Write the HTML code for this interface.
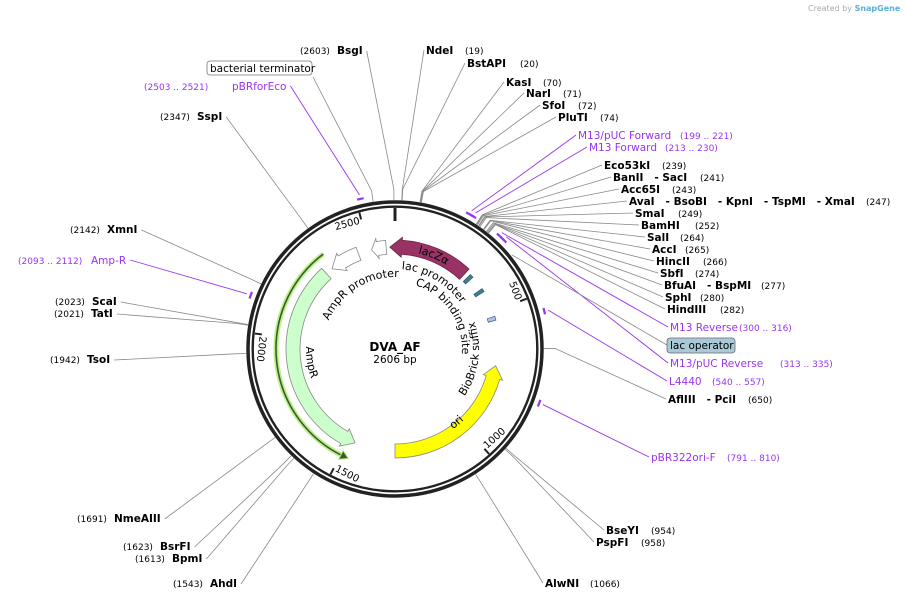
<!DOCTYPE html>
<html><head><meta charset="utf-8">
<style>
html,body{margin:0;padding:0;background:#fff}
svg{display:block;font-family:"DejaVu Sans","Liberation Sans",sans-serif}
.nm{font-weight:bold;font-size:10.5px;fill:#000;white-space:pre}
.num{font-size:9px;fill:#000}
.pn{font-size:10.5px;fill:#9933ee}
.pr{font-size:9px;fill:#9933ee}
.ft{font-size:11px;fill:#000}
</style></head><body>
<svg id="map" width="906" height="601" viewBox="0 0 906 601" xmlns="http://www.w3.org/2000/svg">
<text x="808" y="11" font-size="8" fill="#aaa">Created by <tspan fill="#5ab0d8" font-weight="bold">SnapGene</tspan></text>
<g id="lines"></g><g id="ring"></g><g id="feats"></g><g id="labels"></g>
<text x="395" y="351" text-anchor="middle" font-size="12" font-weight="bold">DVA_AF</text>
<text x="395" y="363" text-anchor="middle" font-size="10.5">2606 bp</text>
</svg>
<script>
const TOTAL = 2606;
const tickValues = [500, 1000, 1500, 2000, 2500];
// right-side enzymes
const rEnzNames = ["NdeI","BstAPI","KasI","NarI","SfoI","PluTI","Eco53kI","BanII   - SacI","Acc65I","AvaI   - BsoBI   - KpnI   - TspMI   - XmaI","SmaI","BamHI","SalI","AccI","HincII","SbfI","BfuAI   - BspMI","SphI","HindIII","AflIII   - PciI","BseYI","PspFI","AlwNI"];
const rEnzSites = [19,20,70,71,72,74,239,241,243,247,249,252,264,265,266,274,277,280,282,650,954,958,1066];
const rEnzLayout = [[426,54,465],[467,67,520],[506,86,543],[526,97,563],[542,109,578],[558,121,600],[604,169,662],[613,181,700],[621,193,672],[629,205,866],[635,217,678],[641,229,695],[647,241,680],[652,253,685],[656,265,703],[660,277,695],[664,289,761],[665,301,700],[667,313,720],[668,403,748],[606,534,651],[596,546,641],[545,587,590]];
// left-side enzymes
const lEnzNames = ["BsgI","SspI","XmnI","ScaI","TatI","TsoI","NmeAIII","BsrFI","BpmI","AhdI"];
const lEnzSites = [2603,2347,2142,2023,2021,1942,1691,1623,1613,1543];
const lEnzLayout = [[300,337,54],[160,197,120],[70,107,233],[55,92,305],[54,91,317],[50,87,363],[77,114,522],[123,160,550],[135,172,562],[173,210,587]];
// primers
const primerNames = ["M13/pUC Forward","M13 Forward","M13 Reverse","M13/pUC Reverse","L4440","pBR322ori-F","Amp-R","pBRforEco"];
const primerStarts = [199,213,300,313,540,791,2093,2503];
const primerEnds = [221,230,316,335,557,810,2112,2521];
const primerLayout = [[578,139,680,1],[589,151,665,1],[670,331,739,1],[670,367,780,1],[669,385,712,1],[651,461,727,1],[91,264,18,0],[232,90,144,0]];
// features
const featNames = ["lacZα","AmpR","AmpR promoter","terminator","ori"];
const featStarts = [310,2300,2454,2570,1303];
const featEnds = [2585,1470,2330,2510,720];
const featFills = ["#993366","#ccffcc","#ffffff","#ffffff","#ffff00"];

const cx=395, cy=349, NS="http://www.w3.org/2000/svg";
const svg=document.getElementById('map');
function ang(bp){return bp/TOTAL*360;}
function P(r,a){const t=a*Math.PI/180;return [cx+r*Math.sin(t), cy-r*Math.cos(t)];}
function mk(tag,attrs,parent){const e=document.createElementNS(NS,tag);for(const k in attrs)e.setAttribute(k,attrs[k]);(parent||svg).appendChild(e);return e;}
function f(p){return p[0].toFixed(2)+","+p[1].toFixed(2);}
function arcTo(r,a1,a2){const p=P(r,a2);const lg=Math.abs(a2-a1)>180?1:0;const sw=a2>a1?1:0;return "A"+r+","+r+" 0 "+lg+" "+sw+" "+f(p);}
const G={lines:document.getElementById('lines'),ring:document.getElementById('ring'),feats:document.getElementById('feats'),labels:document.getElementById('labels')};

// ring
let c1=mk('circle',{cx,cy,r:147,fill:'none',stroke:'#222','stroke-width':3.5},G.ring);


let c2=mk('circle',{cx,cy,r:142.3,fill:'none',stroke:'#222','stroke-width':2.4},G.ring);


let t0=mk('line',{x1:P(141,0)[0],y1:P(141,0)[1],x2:P(128,0)[0],y2:P(128,0)[1],stroke:'#222','stroke-width':3},G.ring);


tickValues.forEach(v=>{
  const a=ang(v);const p1=P(141,a),p2=P(134,a);
  const tk=mk('line',{x1:p1[0],y1:p1[1],x2:p2[0],y2:p2[1],stroke:'#222','stroke-width':2},G.ring);
  
  
  const flip=(a>90&&a<300);
  let tx;
  if(!flip){const p=P(130,a-0.8);tx=mk('text',{x:p[0],y:p[1],'text-anchor':'end',transform:`rotate(${a} ${p[0]} ${p[1]})`,'font-size':10},G.ring);}
  else{const p=P(136,a-0.8);tx=mk('text',{x:p[0],y:p[1],'text-anchor':'start',transform:`rotate(${a-180} ${p[0]} ${p[1]})`,'font-size':10},G.ring);}
  tx.textContent=v;
  
  
});

// features
function arrowD(a1,a2,r1,r2,headPx){
  const dir=a2>a1?1:-1;const rm=(r1+r2)/2;const hd=headPx/rm*180/Math.PI;
  const ab=a2-dir*hd;
  return "M"+f(P(r2,a1))+arcTo(r2,a1,ab)+"L"+f(P(r2+3,ab))+"L"+f(P(rm,a2))+"L"+f(P(r1-3,ab))+"L"+f(P(r1,ab))+arcTo(r1,ab,a1)+"Z";
}
featNames.forEach((n,i)=>{
  let a1=ang(featStarts[i]),a2=ang(featEnds[i]);
  if(a2>a1) a2-=360;
  const d=arrowD(a1,a2,95,109,i===3?6:12);
  const pth=mk('path',{d,fill:featFills[i],stroke:i===0?'#6e2448':'#888','stroke-width':0.8},G.feats);
  
  
});
// small boxes (lac operator region, biobrick)
const boxSites=[[328,343,'#31849b'],[400,414,'#31849b'],[520,536,'#a8c4ee']];
boxSites.forEach((b,i)=>{
  const a1=ang(b[0]),a2=ang(b[1]);const r1=i===2?97:96,r2=i===2?105:106;
  const d="M"+f(P(r2,a1))+arcTo(r2,a1,a2)+"L"+f(P(r1,a2))+arcTo(r1,a2,a1)+"Z";
  const bx=mk('path',{d,fill:b[2],stroke:'#445','stroke-width':0.6},G.feats);
  
  
});
// AmpR highlight line
(function(){
  const a1=ang(2338),a2=ang(1470);
  const d="M"+f(P(119,a1))+arcTo(119,a1,a2+3);
  const gl=mk('path',{d,fill:'none',stroke:'#b8f088','stroke-width':5},G.feats);
  
  
  const ln=mk('path',{d,fill:'none',stroke:'#3f5a2a','stroke-width':1.6},G.feats);
  
  
  const hp=mk('path',{d:"M"+f(P(124,a2+4))+"L"+f(P(119,a2))+"L"+f(P(114,a2+4))+"Z",fill:'#3f5a2a',stroke:'#b8f088','stroke-width':1},G.feats);
  
  
})();

// curved labels
let pid=0;
function curved(txt,r,a1,a2,cls,fill,name,fs){
  const id='cp'+(pid++);
  mk('path',{id,d:"M"+f(P(r,a1))+arcTo(r,a1,a2),fill:'none'},G.feats);
  const t=mk('text',{class:cls,'font-size':fs||11,fill:fill},G.feats);
  
  
  const tp=mk('textPath',{href:'#'+id,startOffset:'50%','text-anchor':'middle'},t);
  tp.textContent=txt;
}
curved("lacZα",98.5,-10,55,'ft','#fff','lacz-label',12);
curved("ori",99,180,100,'ft','#000','ori-label');
curved("AmpR promoter",72,-75,11,'ft','#000','ampr-promoter-label');
curved("lac promoter",80,-15,75,'ft','#000','lac-promoter-label');
curved("CAP binding site",67,5,107,'ft','#000','cap-binding-site-label');
curved("BioBrick suffix",84,150,45,'ft','#000','biobrick-suffix-label');
curved("AmpR",89,290,232,'ft','#000','ampr-label');

// enzyme labels & lines
function leader(ax,ay,bp,color,name){
  const a=ang(bp);const p1=P(160,a),p2=P(149,a);
  const l=mk('polyline',{points:`${ax},${ay} ${f(p1)} ${f(p2)}`,fill:'none',stroke:color,'stroke-width':0.8},G.lines);
  
  
}
rEnzNames.forEach((n,i)=>{
  const [x,y,nx]=rEnzLayout[i];
  const t=mk('text',{x,y,class:'nm'},G.labels);t.textContent=n;
  
  
  const u=mk('text',{x:nx,y,class:'num'},G.labels);u.textContent='('+rEnzSites[i]+')';
  
  
  leader(x-2,y-4,rEnzSites[i],'#888','enzyme-leader-'+i);
});
lEnzNames.forEach((n,i)=>{
  const [nx,x,y]=lEnzLayout[i];
  const u=mk('text',{x:nx,y,class:'num'},G.labels);u.textContent='('+lEnzSites[i]+')';
  
  
  const t=mk('text',{x,y,class:'nm'},G.labels);t.textContent=n;
  
  
  const bb=t.getBBox();
  leader(bb.x+bb.width+4,y-3,lEnzSites[i],'#888','left-enzyme-leader-'+i);
});
primerNames.forEach((n,i)=>{
  const [x,y,rx,right]=primerLayout[i];
  const t=mk('text',{x,y,class:'pn'},G.labels);t.textContent=n;
  
  
  const u=mk('text',{x:rx,y,class:'pr'},G.labels);u.textContent='('+primerStarts[i]+' .. '+primerEnds[i]+')';
  
  
  const bb=t.getBBox();
  const ax=right?x-2:bb.x+bb.width+4;
  const a1=ang(primerStarts[i]),a2=ang(primerEnds[i]),am=(a1+a2)/2;
  const p1=P(158,am);
  const l=mk('polyline',{points:`${ax},${y-4} ${f(p1)}`,fill:'none',stroke:'#9933ee','stroke-width':0.9},G.lines);
  
  
  const ar=mk('path',{d:"M"+f(P(154,a1))+arcTo(154,a1,a2),fill:'none',stroke:'#9933ee','stroke-width':2.2},G.lines);
  
  
});
// boxed feature labels
(function(){
  const r1=mk('rect',{x:207,y:61,width:105,height:14,rx:3,fill:'#fff',stroke:'#777','stroke-width':0.8},G.labels);
  
  
  const t1=mk('text',{x:210,y:72,'font-size':10.5},G.labels);t1.textContent='bacterial terminator';
  
  
  leader(313,77,2545,'#888','bacterial-terminator-leader');
  const r2=mk('rect',{x:667,y:338,width:68,height:15,rx:3,fill:'#a9c9d6',stroke:'#667','stroke-width':0.8},G.labels);
  
  
  const t2=mk('text',{x:670,y:349,'font-size':10.5},G.labels);t2.textContent='lac operator';
  
  
  const l=mk('polyline',{points:`667,345 ${f(P(150,ang(370)))}`,fill:'none',stroke:'#888','stroke-width':0.8},G.lines);
  
  
})();
</script>
</body></html>
